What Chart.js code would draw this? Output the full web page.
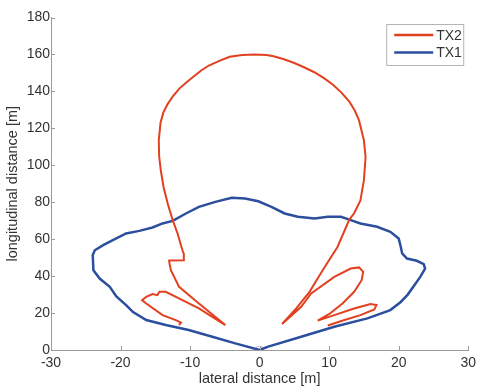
<!DOCTYPE html>
<html>
<head>
<meta charset="utf-8">
<script src="https://cdn.jsdelivr.net/npm/chart.js@4.4.0/dist/chart.umd.min.js"></script>
<style>
    html, body { margin: 0; padding: 0; background: #fff; }
    #wrap { width: 481px; height: 392px; }
</style>
</head>
<body>
<div id="wrap"><canvas id="coverageChart" width="481" height="392"></canvas></div>
<script>
// TX2 (red), left lobe -> main lobe -> right lobes
const tx2X = [-11.6, -11.3, -12.05, -13.96, -16.3, -16.9, -16.3, -15.4, -14.7, -14.4, -13.5, -11.1, -8.73, -4.93,
    -8.73, -11.58, -12.76, -13.0, -13.0, -10.9, -10.9, -11.1, -11.8, -12.5, -13.2, -13.8, -14.2, -14.45, -14.5,
    -14.25, -13.85, -13.25, -12.45, -11.55, -10.5, -9.4, -8.4, -7.3, -5.8, -4.3, -2.5, -0.66, 1.0, 2.0, 3.4, 4.9, 6.3,
    7.8, 9.2, 10.6, 11.8, 12.9, 13.7, 14.3, 15.0, 15.24, 15.0, 14.5,
    13.6, 12.9, 11.2, 9.07, 7.18, 5.27, 3.23,
    5.98, 7.41, 10.74, 13.1, 14.3, 14.9, 14.67, 13.6, 11.92, 10.03, 8.36,
    10.74, 13.6, 15.95, 16.8, 16.5, 14.5, 12.2, 9.8]
const tx2Y = [13.5, 14.8, 16.2, 18.9, 25.2, 27.0, 28.8, 30.3, 29.7, 31.5, 31.5, 27.0, 22.5, 13.5,
    25.2, 34.2, 43.2, 47.7, 48.4, 48.6, 52.0, 54.0, 63.1, 70.3, 79.0, 88.0, 97.0, 105.0, 113.5,
    123.0, 128.5, 133.0, 137.5, 141.5, 145.0, 148.3, 151.3, 154.0, 156.5, 158.7, 159.7, 160.0, 159.7, 159.0, 157.5, 155.5, 153.2,
    150.5, 147.3, 143.5, 139.2, 134.5, 129.5, 124.3, 113.5, 104.5, 91.9, 81.0,
    74.0, 70.6, 55.8, 43.2, 31.5, 22.5, 14.05,
    23.4, 30.6, 39.6, 44.1, 44.7, 42.3, 37.8, 31.5, 25.2, 19.5, 15.9,
    18.9, 22.5, 24.9, 24.3, 22.0, 18.9, 16.2, 13.3]

// TX1 (blue) - closed outline starting at the origin, going round counter clockwise from the left
const tx1X = [0, -3.5, -6.8, -10.2, -13.5, -16.3, -18.2, -19.2, -20.6, -21.55, -23.0, -23.9, -24.0, -23.7,
    -22.5, -21.1, -19.2, -17.3, -15.4, -13.96, -12.5, -10.6, -8.73, -6.36, -4.0, -2.1, -0.19, 1.7, 3.6, 5.5,
    7.9, 9.79, 11.7, 12.9, 14.5, 16.9, 18.8, 20.0, 20.3, 20.5, 21.2, 22.6, 23.6, 23.8, 23.1, 22.1, 21.3, 20.3,
    18.8, 15.5, 10.74, 5.98, 1.24, 0]
const tx1Y = [0, 3.6, 7.2, 10.8, 13.5, 16.2, 20.5, 24.3, 29.0, 34.2, 38.7, 43.2, 51.4, 54.0,
    56.8, 59.5, 63.1, 64.5, 66.3, 68.5, 69.9, 73.9, 77.5, 80.2, 82.4, 82.0, 80.5, 77.5, 73.9, 72.1,
    71.2, 72.1, 72.1, 70.6, 68.5, 66.7, 64.0, 60.4, 55.9, 52.3, 49.5, 48.3, 46.5, 44.1, 39.6, 34.2, 30.0, 26.0,
    21.6, 17.1, 12.6, 7.2, 1.8, 0]

// transmitter position
const originX = [0]
const originY = [0]

const xTicks = [-30, -20, -10, 0, 10, 20, 30]
const yTicks = [0, 20, 40, 60, 80, 100, 120, 140, 160, 180]

const toPoints = (xs, ys) => xs.map((x, i) => ({ x: x, y: ys[i] }))

const fontFamily = "'Liberation Sans', Arial, Helvetica, sans-serif"
const textColor = "#333"
const axisColor = "#9a9a9a"

// matlab style ticks pointing into the axes
const innerTicks = {
    id: "innerTicks",
    afterDraw(chart) {
        const c = chart.ctx
        const xs = chart.scales.x
        const ys = chart.scales.y
        const area = chart.chartArea
        c.save()
        c.strokeStyle = axisColor
        c.lineWidth = 1
        c.beginPath()
        xTicks.forEach(v => {
            const px = Math.round(xs.getPixelForValue(v)) + 0.5
            c.moveTo(px, area.bottom)
            c.lineTo(px, area.bottom - 4)
        })
        yTicks.forEach(v => {
            const py = Math.round(ys.getPixelForValue(v)) + 0.5
            c.moveTo(area.left, py)
            c.lineTo(area.left + 4, py)
        })
        c.stroke()
        c.restore()
    }
}

// legend box in the upper right corner
const boxLegend = {
    id: "boxLegend",
    afterDraw(chart) {
        const c = chart.ctx
        const area = chart.chartArea
        const sets = chart.data.datasets.filter(d => d.label)
        const left = area.right - 82
        const top = area.top + 6.5
        const w = 77
        const h = 41
        c.save()
        c.fillStyle = "#fff"
        c.fillRect(left, top, w, h)
        c.strokeStyle = "#b5b5b5"
        c.lineWidth = 1
        c.strokeRect(left + 0.5, top + 0.5, w, h)
        c.font = "14px " + fontFamily
        c.textBaseline = "middle"
        sets.forEach((d, i) => {
            const y = top + 11 + i * 17.5
            c.strokeStyle = d.borderColor
            c.lineWidth = 2.5
            c.beginPath()
            c.moveTo(left + 8, y)
            c.lineTo(left + 47, y)
            c.stroke()
            c.fillStyle = textColor
            c.fillText(d.label, left + 50, y + 1)
        })
        c.restore()
    }
}

const ctx = document.getElementById("coverageChart").getContext("2d")

const coverageChart = new Chart(ctx, {
    type: "scatter",
    data: {
        datasets: [
            {
                label: "TX2",
                data: toPoints(tx2X, tx2Y),
                borderColor: "#e2401f",
                borderWidth: 2,
                showLine: true,
                pointRadius: 0,
                tension: 0
            },
            {
                label: "TX1",
                data: toPoints(tx1X, tx1Y),
                borderColor: "#2b4f9e",
                borderWidth: 2.5,
                showLine: true,
                pointRadius: 0,
                tension: 0
            },
            {
                data: toPoints(originX, originY),
                borderColor: "#b3b8e6",
                backgroundColor: "rgba(0,0,0,0)",
                borderWidth: 1,
                pointRadius: 4,
                showLine: false
            }
        ]
    },
    options: {
        responsive: false,
        animation: false,
        layout: { padding: { top: 17.5, right: 9, left: 0, bottom: 0 } },
        plugins: {
            legend: { display: false },
            tooltip: { enabled: false }
        },
        scales: {
            x: {
                type: "linear",
                min: -30, max: 30,
                afterFit: (scale) => { scale.height = 42 },
                afterBuildTicks: (scale) => { scale.ticks = xTicks.map(v => ({ value: v })) },
                grid: { display: false, drawTicks: false },
                border: { display: true, color: axisColor, width: 1 },
                ticks: {
                    color: textColor,
                    padding: 5,
                    maxRotation: 0,
                    font: { family: fontFamily, size: 14 }
                },
                title: {
                    display: true,
                    text: "lateral distance [m]",
                    color: textColor,
                    padding: { top: 0, bottom: 4 },
                    font: { family: fontFamily, size: 14.5 }
                }
            },
            y: {
                type: "linear",
                min: 0, max: 180,
                afterFit: (scale) => { scale.width = 51 },
                afterBuildTicks: (scale) => { scale.ticks = yTicks.map(v => ({ value: v })) },
                grid: { display: false, drawTicks: false },
                border: { display: true, color: axisColor, width: 1 },
                ticks: {
                    color: textColor,
                    padding: 1,
                    font: { family: fontFamily, size: 14 }
                },
                title: {
                    display: true,
                    text: "longitudinal distance [m]",
                    color: textColor,
                    padding: { top: 4, bottom: 0 },
                    font: { family: fontFamily, size: 14.5 }
                }
            }
        }
    },
    plugins: [innerTicks, boxLegend]
})
</script>
</body>
</html>
